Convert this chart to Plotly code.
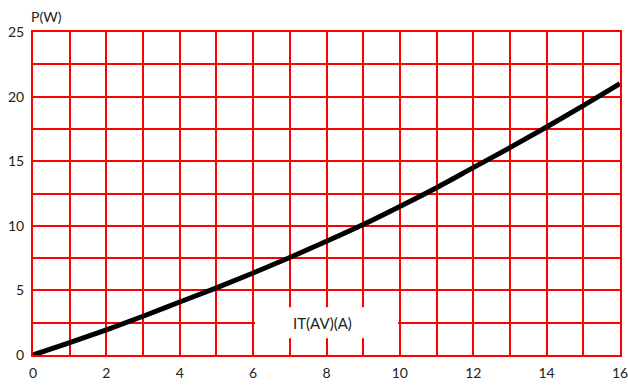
import plotly.graph_objects as go

# Data
current = [0, 1, 2, 3, 4, 5, 6, 7, 8, 9, 10, 11, 12, 13, 14, 15, 16]
power = [0, 0.95, 1.95, 3.0, 4.1, 5.2, 6.35, 7.55, 8.8, 10.1, 11.5, 12.95, 14.5, 16.05, 17.65, 19.3, 21.0]

x_ticks = [0, 2, 4, 6, 8, 10, 12, 14, 16]
y_ticks = [0, 5, 10, 15, 20, 25]

RED = "#ff0000"
FONT = "Lato"
TXT = "#222"

fig = go.Figure()

fig.add_trace(go.Scatter(
    x=current, y=power, mode="lines",
    line=dict(color="black", width=5, shape="spline"),
    hoverinfo="skip", cliponaxis=False,
))

# white box behind the axis label
fig.add_shape(type="rect", x0=6.05, x1=9.95, y0=1.3, y1=3.7,
              fillcolor="white", line=dict(width=0), layer="between")

fig.add_annotation(x=7.9, y=2.5, text="IT(AV)(A)", showarrow=False,
                   font=dict(family=FONT, size=15, color=TXT))
fig.add_annotation(xref="paper", yref="paper", x=0, y=1.0, xshift=-4, yshift=16,
                   xanchor="left", yanchor="middle", text="P(W)", showarrow=False,
                   font=dict(family=FONT, size=14, color=TXT))

fig.update_xaxes(
    range=[0, 16], tickvals=x_ticks, showgrid=True, gridcolor=RED, gridwidth=2,
    minor=dict(dtick=1, showgrid=True, gridcolor=RED, gridwidth=2),
    zeroline=False, showline=True, linecolor=RED, linewidth=2, mirror=True,
    ticks="", automargin=False, ticklabeloverflow="allow", ticklabelstandoff=4,
    tickfont=dict(family=FONT, size=14, color=TXT),
)
fig.update_yaxes(
    range=[0, 25], tickvals=y_ticks, showgrid=True, gridcolor=RED, gridwidth=2,
    minor=dict(dtick=2.5, showgrid=True, gridcolor=RED, gridwidth=2),
    zeroline=False, showline=True, linecolor=RED, linewidth=2, mirror=True,
    ticks="", automargin=False, ticklabeloverflow="allow", ticklabelstandoff=4,
    tickfont=dict(family=FONT, size=14, color=TXT),
)

fig.update_layout(
    width=628, height=387,
    margin=dict(l=33, r=8, t=32, b=32),
    plot_bgcolor="white", paper_bgcolor="white",
    showlegend=False,
)

# drop the default page margin so the figure fills the window
fig.write_html("out.html", config={"displayModeBar": False},
               post_script="document.body.style.margin='0';")
